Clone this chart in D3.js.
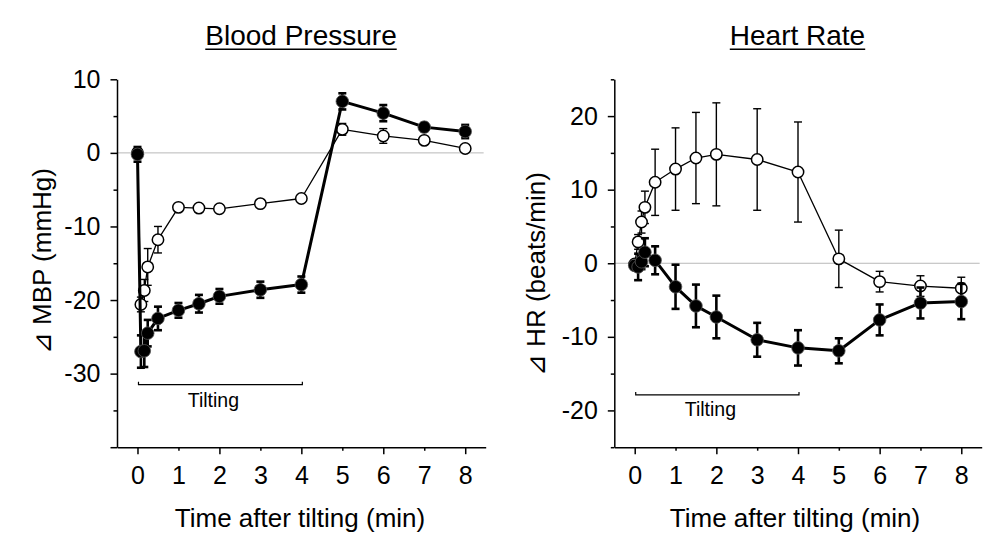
<!DOCTYPE html>
<html><head><meta charset="utf-8">
<script src="https://cdn.jsdelivr.net/npm/d3@7"></script>
<style>
body{margin:0;background:#fff}
svg{display:block;background:#fff}
text{font-family:"Liberation Sans",Arial,Helvetica,sans-serif;fill:#000}
</style>
</head><body>
<svg id="chart" width="995" height="548"></svg>
<script>
// ---- data ----
const times = [0, 5/60, 10/60, 15/60, 0.5, 1, 1.5, 2, 3, 4, 5, 6, 7, 8];
const timeTicks = [0, 1, 2, 3, 4, 5, 6, 7, 8];

const mbpFilled    = [-0.2, -27.0, -26.9, -24.5, -22.5, -21.4, -20.5, -19.5, -18.6, -17.9, 7.0, 5.4, 3.5, 2.9];
const mbpFilledErr = [1.0, 2.2, 2.2, 1.8, 1.6, 1.0, 1.2, 1.0, 1.1, 1.1, 1.1, 1.1, 0.55, 0.9];
const mbpOpen      = [0.0, -20.6, -18.7, -15.5, -11.8, -7.4, -7.5, -7.6, -6.9, -6.2, 3.2, 2.3, 1.7, 0.6];
const mbpOpenErr   = [0.5, 1.0, 1.5, 2.5, 1.8, 0.3, 0.3, 0.3, 0.3, 0.3, 0.8, 1.0, 0.5, 0.4];

const hrFilled     = [-0.3, -0.5, 0.2, 1.5, 0.4, -3.2, -5.8, -7.3, -10.4, -11.5, -11.9, -7.7, -5.4, -5.2];
const hrFilledErr  = [0.5, 1.8, 1.0, 1.9, 1.9, 3.0, 2.9, 2.9, 2.3, 2.4, 1.7, 2.1, 2.1, 2.4];
const hrOpen       = [-0.1, 2.9, 5.6, 7.6, 11.0, 12.8, 14.3, 14.8, 14.1, 12.4, 0.6, -2.5, -3.1, -3.4];
const hrOpenErr    = [0.5, 1.0, 1.5, 2.2, 4.5, 5.6, 6.2, 7.0, 6.9, 6.8, 3.9, 1.4, 1.4, 1.5];

const mbpMajorTicks = [10, 0, -10, -20, -30, -40];
const mbpMinorTicks = [5, -5, -15, -25, -35];
const mbpTickLabels = [10, 0, -10, -20, -30];
const hrMajorTicks  = [20, 10, 0, -10, -20];
const hrMinorTicks  = [25, 15, 5, -5, -15, -25];
const hrTickLabels  = [20, 10, 0, -10, -20];

const panelTitles = ["Blood Pressure", "Heart Rate"];
const yTitles = ["\u22BF MBP (mmHg)", "\u22BF HR (beats/min)"];
const xTitle = "Time after tilting (min)";
const tiltLabel = "Tilting";
const tiltPeriod = [0, 4];
const tiltLevels = [-31.5, -17.9];

// ---- drawing ----
const svg = d3.select("#chart");

const panels = [
  {x0: 117, x1: 485.7, yDomain: [-40, 10], major: mbpMajorTicks, minor: mbpMinorTicks, labels: mbpTickLabels,
   filled: mbpFilled, filledErr: mbpFilledErr, open: mbpOpen, openErr: mbpOpenErr,
   title: panelTitles[0], titleX: 301, yTitle: yTitles[0], yTitleX: 42, yTitleY: 261, xTitleX: 300,
   tiltY: tiltLevels[0], tiltTextDy: 22.7},
  {x0: 614.3, x1: 981.7, yDomain: [-25, 25], major: hrMajorTicks, minor: hrMinorTicks, labels: hrTickLabels,
   filled: hrFilled, filledErr: hrFilledErr, open: hrOpen, openErr: hrOpenErr,
   title: panelTitles[1], titleX: 797.5, yTitle: yTitles[1], yTitleX: 536, yTitleY: 274, xTitleX: 795,
   tiltY: tiltLevels[1], tiltTextDy: 21}
];

const yBottom = 447.2, yTop = 79.3;

panels.forEach(p => {
  const x = d3.scaleLinear().domain([-0.5, 8.5]).range([p.x0, p.x1]);
  const y = d3.scaleLinear().domain(p.yDomain).range([yBottom, yTop]);
  const g = svg.append("g");

  // zero reference line
  g.append("line")
    .attr("x1", x(-0.5)).attr("x2", x(8.45))
    .attr("y1", y(0)).attr("y2", y(0))
    .attr("stroke", "#b8b8b8").attr("stroke-width", 1);

  // tilting bracket
  const by = y(p.tiltY);
  const bx0 = x(tiltPeriod[0]) + 1, bx1 = x(tiltPeriod[1]) + 1;
  g.append("path")
    .attr("d", `M${bx0},${by - 3}V${by}H${bx1}V${by - 3}`)
    .attr("fill", "none").attr("stroke", "#000").attr("stroke-width", 1.2);
  g.append("text")
    .attr("x", (bx0 + bx1) / 2 - 7).attr("y", by + p.tiltTextDy)
    .attr("text-anchor", "middle").attr("font-size", 19.5)
    .text(tiltLabel);

  function series(vals, errs, filled) {
    const sg = g.append("g");
    const cap = 4;
    const ew = filled ? 2.6 : 1.4;
    times.forEach((t, i) => {
      const cx = x(t), lo = y(vals[i] - errs[i]), hi = y(vals[i] + errs[i]);
      sg.append("line").attr("x1", cx).attr("x2", cx).attr("y1", lo).attr("y2", hi)
        .attr("stroke", "#000").attr("stroke-width", ew);
      [lo, hi].forEach(yy => sg.append("line")
        .attr("x1", cx - cap).attr("x2", cx + cap).attr("y1", yy).attr("y2", yy)
        .attr("stroke", "#000").attr("stroke-width", filled ? 2.6 : 1.4));
    });
    const line = d3.line().x((d, i) => x(times[i])).y(d => y(d));
    sg.append("path").attr("d", line(vals))
      .attr("fill", "none").attr("stroke", "#000")
      .attr("stroke-width", filled ? 3 : 1.3).attr("stroke-linejoin", "round");
    sg.selectAll("circle").data(vals).join("circle")
      .attr("cx", (d, i) => x(times[i])).attr("cy", d => y(d))
      .attr("r", filled ? 6.3 : 5.7)
      .attr("fill", filled ? "#000" : "#fff")
      .attr("stroke", filled ? "#555" : "#000")
      .attr("stroke-width", filled ? 0.8 : 1.5);
  }
  series(p.open, p.openErr, false);
  series(p.filled, p.filledErr, true);

  // y axis
  const yAxis = d3.axisLeft(y).tickValues(p.major).tickSize(6.5).tickSizeOuter(0).tickPadding(10)
    .tickFormat(d => p.labels.includes(d) ? String(d) : "");
  const ya = g.append("g").attr("transform", `translate(${x(-0.5)},0)`).call(yAxis);
  const yMinor = d3.axisLeft(y).tickValues(p.minor).tickSize(3.5).tickSizeOuter(0).tickFormat(() => "");
  const ym = g.append("g").attr("transform", `translate(${x(-0.5)},0)`).call(yMinor);
  ym.select(".domain").remove();

  // x axis
  const xAxis = d3.axisBottom(x).tickValues(timeTicks).tickSize(0).tickSizeOuter(0).tickPadding(19)
    .tickFormat(d => String(d));
  const xa = g.append("g").attr("transform", `translate(0,${yBottom})`).call(xAxis);
  xa.selectAll(".tick line").remove();
  xa.selectAll(".tick").append("line")
    .attr("y2", d => d % 2 === 0 ? 7 : 3.5).attr("stroke", "#000");

  [ya, ym, xa].forEach(a => {
    a.selectAll("path, line").attr("stroke", "#000").attr("stroke-width", 1.5);
    a.selectAll("text").attr("font-size", 25).attr("fill", "#000")
      .style("font-family", '"Liberation Sans",Arial,sans-serif');
  });

  // titles
  const tt = g.append("text").attr("x", p.titleX).attr("y", 45)
    .attr("text-anchor", "middle").attr("font-size", 28).text(p.title);
  const tw = tt.node().getComputedTextLength();
  g.append("line").attr("x1", p.titleX - tw / 2).attr("x2", p.titleX + tw / 2)
    .attr("y1", 49.3).attr("y2", 49.3).attr("stroke", "#000").attr("stroke-width", 1.6);

  g.append("text").attr("x", p.xTitleX).attr("y", 526.5)
    .attr("text-anchor", "middle").attr("font-size", 26).text(xTitle);

  g.append("text")
    .attr("transform", `translate(${p.yTitleX + 9},${p.yTitleY}) rotate(-90)`)
    .attr("text-anchor", "middle").attr("font-size", 26)
    .style("font-family", '"Liberation Sans","DejaVu Sans","Noto Sans CJK JP",sans-serif')
    .text(p.yTitle);
});
</script>
</body></html>
